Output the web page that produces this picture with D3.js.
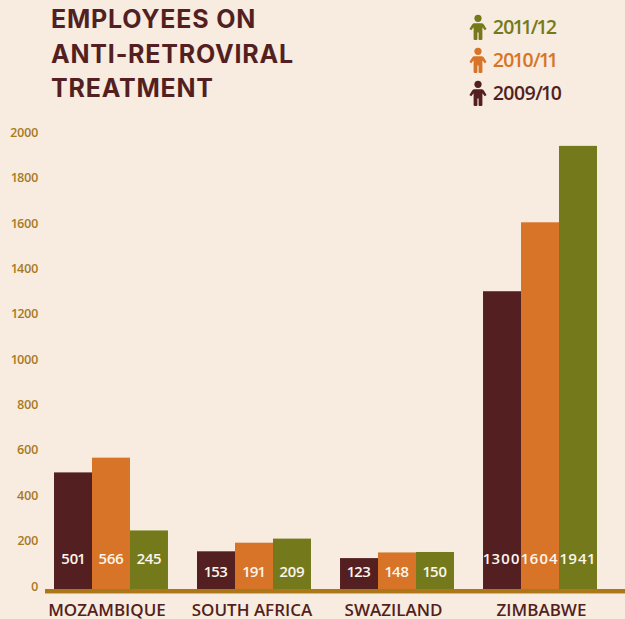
<!DOCTYPE html>
<html>
<head>
<meta charset="utf-8">
<script src="https://cdn.jsdelivr.net/npm/d3@7/dist/d3.min.js"></script>
<style>
html,body{margin:0;padding:0;background:#f7ecdf;overflow:hidden}
svg{display:block}
text{font-family:"Open Sans","Noto Sans",sans-serif;font-variant-numeric:proportional-nums}
</style>
</head>
<body>
<svg id="chart" width="625" height="619"></svg>
<script>
// Employees on anti-retroviral treatment, by country and reporting year
const titleLines = ["EMPLOYEES ON", "ANTI-RETROVIRAL", "TREATMENT"];
const countries = ["MOZAMBIQUE", "SOUTH AFRICA", "SWAZILAND", "ZIMBABWE"];
const years = ["2009/10", "2010/11", "2011/12"];
const values2009 = [501, 153, 123, 1300];
const values2010 = [566, 191, 148, 1604];
const values2011 = [245, 209, 150, 1941];
const yTicks = [0, 200, 400, 600, 800, 1000, 1200, 1400, 1600, 1800, 2000];
const yearColors = ["#541f21", "#d77428", "#747a1c"];

const series = [values2009, values2010, values2011];
const INK = "#541f21", GOLD = "#ab7718", BASE = 589;
// Country captions sit slightly off their bar groups
const captionShift = [-4, -2, -3.5, 1.5];

const svg = d3.select("#chart");
svg.append("rect").attr("width", 625).attr("height", 619).attr("fill", "#f7ecdf");

const y = d3.scaleLinear().domain([0, 2000]).range([586, 132.5]);
const x0 = d3.scaleBand().domain(countries).range([54, 597]).paddingInner(0.203).paddingOuter(0);
const x1 = d3.scaleBand().domain(d3.range(years.length)).range([0, x0.bandwidth()]);

// Title
svg.append("g").selectAll("text").data(titleLines).join("text")
  .attr("x", 51).attr("y", (d, i) => 28 + i * 34.5)
  .style("font-family", "Inter, sans-serif")
  .attr("font-size", 25).attr("font-weight", 700)
  .attr("letter-spacing", 0.8).attr("fill", INK)
  .text(d => d);

// Value axis
const axis = d3.axisLeft(y).tickValues(yTicks).tickSize(0).tickPadding(0).tickFormat(d3.format("d"));
const axisG = svg.append("g").attr("transform", "translate(38,0)").call(axis);
axisG.select(".domain").remove();
axisG.selectAll("text")
  .style("font-family", '"Open Sans",sans-serif')
  .attr("font-size", 12.5).attr("font-weight", 600)
  .attr("letter-spacing", -0.4).attr("fill", "#a9791f");

// Bars and their value labels
const groups = svg.append("g").selectAll("g").data(countries).join("g")
  .attr("transform", d => `translate(${x0(d)},0)`);

groups.each(function (country, c) {
  const g = d3.select(this);
  const row = series.map(s => s[c]);
  const labelValue = d3.max(row) > 230 ? 120 : 65;
  g.selectAll("rect").data(row).join("rect")
    .attr("x", (d, i) => x1(i))
    .attr("width", x1.bandwidth())
    .attr("y", d => y(d))
    .attr("height", d => BASE - y(d))
    .attr("fill", (d, i) => yearColors[i]);
  g.selectAll("text").data(row).join("text")
    .attr("x", (d, i) => x1(i) + x1.bandwidth() / 2)
    .attr("y", y(labelValue))
    .attr("dy", "0.36em")
    .attr("text-anchor", "middle")
    .attr("font-size", 15).attr("font-weight", 600)
    .attr("letter-spacing", d => d >= 1000 ? 0.9 : -0.4)
    .attr("fill", "#fbf5ec")
    .text(d => d);
});

// Baseline rule
svg.append("rect").attr("x", 45).attr("y", 589).attr("width", 580).attr("height", 4).attr("fill", GOLD);
svg.append("rect").attr("x", 45).attr("y", 593).attr("width", 580).attr("height", 1).attr("fill", "#d9b76e");

// Country labels
svg.append("g").selectAll("text").data(countries).join("text")
  .attr("x", (d, i) => x0(d) + x0.bandwidth() / 2 + captionShift[i])
  .attr("y", 615.5)
  .attr("text-anchor", "middle")
  .attr("font-size", 17).attr("font-weight", 600)
  .attr("fill", INK)
  .text(d => d);

// Legend: small standing figure beside each year, newest first
const personBody = "M-3.4,-3.2 L3.4,-3.2 Q5,-3.2 5.8,-2 L8.6,2.4 L6.7,3.7 L4.4,0.8 L4.4,12.4 Q4.4,13.5 3.2,13.5 L1.5,13.5 Q0.6,13.5 0.6,12.4 L0.6,6 L-0.6,6 L-0.6,12.4 Q-0.6,13.5 -1.5,13.5 L-3.2,13.5 Q-4.4,13.5 -4.4,12.4 L-4.4,0.8 L-6.7,3.7 L-8.6,2.4 L-5.8,-2 Q-5,-3.2 -3.4,-3.2 Z";
const legendOrder = d3.range(years.length).reverse();
const legend = svg.append("g").selectAll("g").data(legendOrder).join("g")
  .attr("transform", (d, i) => `translate(478,${26.5 + i * 33})`)
  .attr("fill", d => yearColors[d]);
legend.append("circle").attr("cx", 0).attr("cy", -8.2).attr("r", 3.6);
legend.append("path").attr("d", personBody);
legend.append("text")
  .attr("x", 15).attr("y", 7.5)
  .attr("font-size", 19.5).attr("font-weight", 600)
  .attr("letter-spacing", -0.8)
  .text(d => years[d]);
</script>
</body>
</html>
